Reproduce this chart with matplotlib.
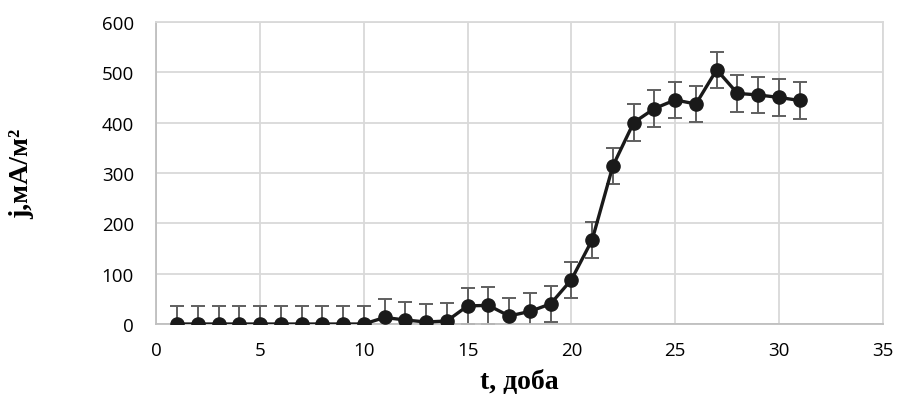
import numpy as np
import matplotlib.pyplot as plt

# days and current density
days = list(range(1, 32))
j_vals = [0, 0, 0, 0, 0, 0, 0, 0, 0, 0,
          13, 8, 4, 6, 36, 37, 16, 25, 40, 88,
          167, 314, 400, 428, 445, 437, 505, 458, 455, 450, 444]
j_err = [36] * len(days)

x_ticks = [0, 5, 10, 15, 20, 25, 30, 35]
y_ticks = [0, 100, 200, 300, 400, 500, 600]

fig = plt.figure(figsize=(8.98, 4.02), dpi=100)
ax = fig.add_axes([0.174, 0.1915, 0.809, 0.7515])

ax.errorbar(days, j_vals, yerr=j_err, fmt='none', ecolor='#5f5f5f',
            elinewidth=1.4, capsize=5, capthick=1.4, zorder=2)
ax.plot(days, j_vals, color='#1a1a1a', lw=2.4, marker='o', ms=9.5, zorder=3)

ax.set_xlim(0, 35)
ax.set_ylim(0, 600)
ax.set_xticks(x_ticks)
ax.set_yticks(y_ticks)
ax.grid(True, color='#d9d9d9', lw=1.3)
ax.set_axisbelow(True)
for s in ax.spines.values():
    s.set_color('#d9d9d9')
    s.set_linewidth(1.3)
ax.spines['left'].set_color('#bfbfbf')
ax.spines['bottom'].set_color('#bfbfbf')
ax.tick_params(axis='y', length=0, labelsize=13.5, pad=16)
ax.tick_params(axis='x', length=0, labelsize=13.5, pad=12)
for lab in ax.get_xticklabels() + ax.get_yticklabels():
    lab.set_fontfamily('Open Sans')

ax.set_xlabel('t, доба', fontfamily='Liberation Serif', fontweight='bold',
              fontsize=20)
ax.set_ylabel('j,мА/м²', fontfamily='Liberation Serif', fontweight='bold',
              fontsize=20)
ax.xaxis.set_label_coords(0.5, -0.15)
ax.yaxis.set_label_coords(-0.168, 0.5)

fig.savefig('out.png', dpi=100)
